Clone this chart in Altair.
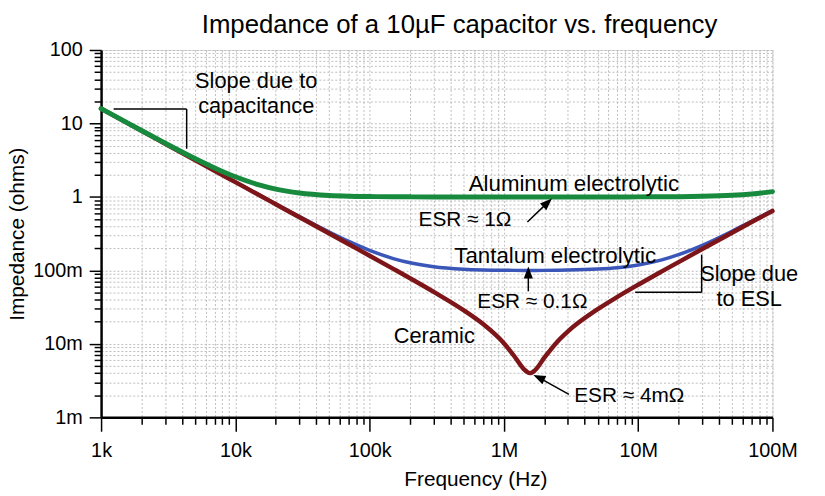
import altair as alt
import pandas as pd

FONT = "Liberation Sans"

TITLE = "Impedance of a 10\u00b5F capacitor vs. frequency"

# ---- curve data ----
freq = [1e3, 1.5e3, 2e3, 3e3, 5e3, 7e3, 1e4, 1.5e4, 2e4, 3e4, 5e4, 7e4,
        1e5, 1.5e5, 2e5, 3e5, 5e5, 7e5, 1e6, 1.2e6, 1.4e6, 1.56e6, 1.7e6,
        2e6, 2.5e6, 3e6, 5e6, 7e6, 1e7, 1.5e7, 2e7, 3e7, 5e7, 7e7, 1e8]
z_aluminum = [15.95, 10.66, 8.02, 5.40, 3.336, 2.484, 1.880, 1.458, 1.278, 1.132, 1.049, 1.025,
              1.0125, 1.0055, 1.003, 1.0013, 1.0004, 1.0, 1.0, 1.0, 1.0, 1.0, 1.0,
              1.0, 1.0, 1.0, 1.0, 1.0, 1.002, 1.0047, 1.0084, 1.019, 1.052, 1.099, 1.18]
z_tantalum = [15.92, 10.61, 7.96, 5.306, 3.185, 2.276, 1.595, 1.066, 0.802, 0.540, 0.333, 0.248,
              0.1874, 0.1451, 0.127, 0.1123, 0.104, 0.1016, 0.1004, 0.1001, 0.1, 0.1, 0.1,
              0.1001, 0.1005, 0.101, 0.1043, 0.109, 0.1186, 0.1392, 0.1639, 0.2195, 0.341, 0.468, 0.65]
z_ceramic = [15.92, 10.61, 7.96, 5.305, 3.183, 2.274, 1.5915, 1.061, 0.7956, 0.5303, 0.318, 0.2269,
             0.1585, 0.1051, 0.0783, 0.0511, 0.0288, 0.0186, 0.0102, 0.00674, 0.00458, 0.0040, 0.00436,
             0.00648, 0.01073, 0.01484, 0.0297, 0.0436, 0.0638, 0.0969, 0.1298, 0.1954, 0.326, 0.457, 0.645]

series_names = ["Tantalum electrolytic", "Ceramic", "Aluminum electrolytic"]
series_colors = ["#3a56b8", "#7e1518", "#178a3e"]
series_widths = [3.5, 4.5, 5]

# ---- annotation texts ----
note_text = ["Slope due to", "capacitance", "Aluminum electrolytic", "ESR \u2248 1\u03a9",
             "Tantalum electrolytic", "ESR \u2248 0.1\u03a9", "Ceramic", "ESR \u2248 4m\u03a9",
             "Slope due", "to ESL"]
note_size = [22, 22, 22.5, 21, 22.5, 21, 22, 21, 22, 22]
note_f = [14.3e3, 14.3e3, 3.32e6, 513e3, 2.41e6, 1.63e6, 303e3, 8.59e6, 67.1e6, 67.1e6]
note_z = [37.4, 17.2, 1.483, 0.485, 0.159, 0.0371, 0.01285, 0.00194, 0.0881, 0.0405]

# ---- annotation line segments (brackets and arrow shafts) ----
seg_f1 = [1.24e3, 4.34e3, 29.7e6, 9.5e6, 1.496e6, 1.52e6, 3.05e6]
seg_z1 = [15.7, 15.7, 0.164, 0.0504, 0.456, 0.052, 0.00206]
seg_f2 = [4.34e3, 4.34e3, 29.7e6, 29.7e6, 2.114e6, 1.52e6, 1.82e6]
seg_z2 = [15.7, 4.53, 0.0504, 0.0504, 0.836, 0.0937, 0.00348]

# ---- arrow heads ----
head_f = [2.114e6, 1.52e6, 1.82e6]
head_z = [0.836, 0.0937, 0.00348]
head_angle = [46, 0, 295]

# ---- axes ----
x_major = [1e3, 1e4, 1e5, 1e6, 1e7, 1e8]
x_labels = ["1k", "10k", "100k", "1M", "10M", "100M"]
y_major = [1e-3, 1e-2, 1e-1, 1.0, 10.0, 100.0]
y_labels = ["1m", "10m", "100m", "1", "10", "100"]
x_ticks = [m * v for v in x_major[:-1] for m in range(1, 10)] + [x_major[-1]]
y_ticks = [m * v for v in y_major[:-1] for m in range(1, 10)] + [y_major[-1]]


def arr(vals):
    return "[" + ",".join(repr(float(v)) for v in vals) + "]"


def label_expr(vals, labs):
    v = arr(vals)
    l = "[" + ",".join("'" + s + "'" for s in labs) + "]"
    return f"indexof({v}, datum.value) >= 0 ? {l}[indexof({v}, datum.value)] : ''"


def major_test(vals):
    return f"indexof({arr(vals)}, datum.value) >= 0"


common_axis = dict(
    grid=True, gridColor="#bdbdbd", gridDash=[2, 2], gridWidth=1,
    domainColor="black", domainWidth=2.5, tickColor="black", tickWidth=1.5,
    labelFont=FONT, labelFontSize=20, labelColor="black", labelOverlap=False,
    labelFlush=False, titleFont=FONT, titleFontSize=21, titleFontWeight="normal",
    titleColor="black",
)

x_axis = alt.Axis(
    values=x_ticks, labelExpr=label_expr(x_major, x_labels),
    tickSize={"condition": {"test": major_test(x_major), "value": 14}, "value": 7},
    labelPadding=10, title="Frequency (Hz)", titleX=378, titleY=63,
    titleAlign="center", titleBaseline="middle", **common_axis)
y_axis = alt.Axis(
    values=y_ticks, labelExpr=label_expr(y_major, y_labels),
    tickSize={"condition": {"test": major_test(y_major), "value": 12}, "value": 7},
    labelPadding=7, title="Impedance (ohms)", titleX=-84, titleY=185.5,
    titleAngle=270, titleAlign="center", titleBaseline="middle", **common_axis)

xs = alt.Scale(type="log", domain=[x_major[0], x_major[-1]], nice=False)
ys = alt.Scale(type="log", domain=[y_major[0], y_major[-1]], nice=False)


def X(field="f"):
    return alt.X(f"{field}:Q", scale=xs, axis=x_axis)


def Y(field="z"):
    return alt.Y(f"{field}:Q", scale=ys, axis=y_axis)


curves = pd.DataFrame({"f": freq * 3,
                       "z": z_tantalum + z_ceramic + z_aluminum,
                       "s": [series_names[0]] * len(freq) + [series_names[1]] * len(freq)
                       + [series_names[2]] * len(freq)})

layers = []
for name, col, w in zip(series_names, series_colors, series_widths):
    layers.append(
        alt.Chart(curves).transform_filter(alt.datum.s == name)
        .mark_line(color=col, strokeWidth=w, interpolate="monotone", strokeCap="round")
        .encode(x=X(), y=Y(), order="f:Q")
    )

segs = pd.DataFrame({"f": seg_f1, "z": seg_z1, "f2": seg_f2, "z2": seg_z2})
layers.append(
    alt.Chart(segs).mark_rule(color="black", strokeWidth=1.5)
    .encode(x=X(), y=Y(), x2="f2:Q", y2="z2:Q")
)

heads = pd.DataFrame({"f": head_f, "z": head_z, "a": head_angle})
layers.append(
    alt.Chart(heads).mark_point(shape="M0,-1L0.75,1L-0.75,1Z", filled=True, color="black",
                                size=150, opacity=1, strokeWidth=0)
    .encode(x=X(), y=Y(), angle=alt.Angle("a:Q", scale=None))
)

notes = pd.DataFrame({"f": note_f, "z": note_z, "t": note_text, "fs": note_size})
layers.append(
    alt.Chart(notes).mark_text(font=FONT, color="black", align="center", baseline="middle")
    .encode(x=X(), y=Y(), text="t:N", size=alt.Size("fs:Q", scale=None, legend=None))
)

title_df = pd.DataFrame({"t": [TITLE]})
layers.append(
    alt.Chart(title_df).mark_text(font=FONT, fontSize=26, color="black", align="center",
                                  baseline="alphabetic")
    .encode(text="t:N", x=alt.value(362), y=alt.value(-17))
)

chart = alt.layer(*layers).properties(
    width=678, height=371,
    autosize=alt.AutoSizeParams(type="none"),
    padding={"left": 94, "top": 40, "right": 45, "bottom": 77},
).configure_view(stroke="#cccccc", strokeWidth=1).configure(background="white")

chart.save("out.html", embed_options={"renderer": "svg", "actions": False})
